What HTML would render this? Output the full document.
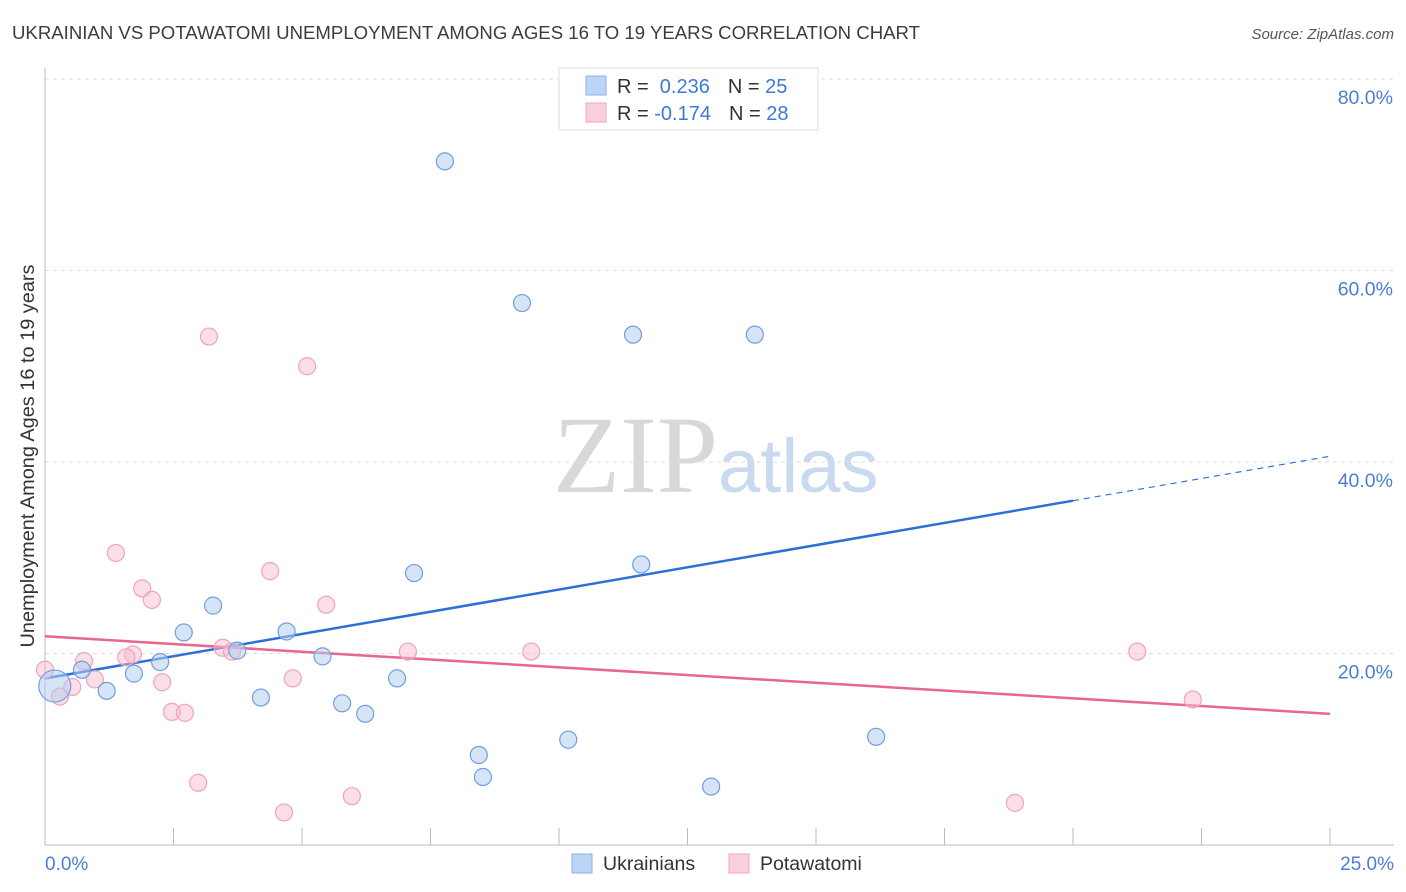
<!DOCTYPE html>
<html><head><meta charset="utf-8"><style>
body{margin:0;background:#fff;font-family:"Liberation Sans",sans-serif;}
svg{display:block}
</style></head><body>
<svg id="chart" width="1406" height="892" xmlns="http://www.w3.org/2000/svg">
<text x="12" y="39" font-size="18.6" fill="#3c3c3c" textLength="908" lengthAdjust="spacingAndGlyphs">UKRAINIAN VS POTAWATOMI UNEMPLOYMENT AMONG AGES 16 TO 19 YEARS CORRELATION CHART</text>
<text x="1394" y="39" font-size="15" fill="#555" text-anchor="end" font-style="italic">Source: ZipAtlas.com</text>
<text x="553" y="492" font-family="Liberation Serif,serif" font-size="110" fill="#d8d8d8">ZIP</text>
<text x="718" y="492" font-size="76" fill="#c9d9f0">atlas</text>
<g id="grid"></g><g id="axes"></g><g id="trends"></g><g id="points"></g>
<text transform="translate(34,456) rotate(-90)" font-size="19" fill="#333" text-anchor="middle" textLength="383" lengthAdjust="spacingAndGlyphs">Unemployment Among Ages 16 to 19 years</text>
<text x="45" y="870" font-size="19" fill="#4a7fd0">0.0%</text>
<text x="1394" y="870" font-size="19" fill="#4a7fd0" text-anchor="end">25.0%</text>
<g>
<rect x="559" y="68" width="259" height="62" fill="#fff" stroke="#ddd"/>
<rect x="586" y="76" width="20" height="19" fill="#bcd4f5" stroke="#8ab0e6"/>
<rect x="586" y="103" width="20" height="19" fill="#fbd0dd" stroke="#f0a4bb"/>
<text x="617" y="93" font-size="20" fill="#333">R = <tspan fill="#3d7ad6">&#160;0.236</tspan><tspan dx="18">N = </tspan><tspan fill="#3d7ad6">25</tspan></text>
<text x="617" y="120" font-size="20" fill="#333">R = <tspan fill="#3d7ad6">-0.174</tspan><tspan dx="18">N = </tspan><tspan fill="#3d7ad6">28</tspan></text>
</g>
<g>
<rect x="572" y="854" width="20" height="19" fill="#bcd4f5" stroke="#8ab0e6"/>
<text x="603" y="870" font-size="19.5" fill="#333">Ukrainians</text>
<rect x="729" y="854" width="20" height="19" fill="#fbd0dd" stroke="#f0a4bb"/>
<text x="760" y="870" font-size="19.5" fill="#333">Potawatomi</text>
</g>
</svg>
<script>
const blueX=[0.19,0.72,1.2,1.73,2.24,2.7,3.27,3.74,4.2,4.7,5.4,5.78,6.23,6.85,7.18,7.78,8.44,8.52,9.28,10.18,11.44,11.6,12.96,13.81,16.17];
const blueY=[16.6,18.3,16.1,17.9,19.1,22.2,25.0,20.3,15.4,22.3,19.7,14.8,13.7,17.4,28.4,71.4,9.4,7.1,56.6,11.0,53.3,29.3,6.1,53.3,11.3];
const pinkX=[0,0.29,0.53,0.76,0.97,1.38,1.71,1.58,1.89,2.08,2.28,2.47,2.72,2.98,3.19,3.46,3.64,4.38,4.65,4.82,5.1,5.47,5.97,7.06,9.46,18.87,21.25,22.33];
const pinkY=[18.3,15.5,16.5,19.2,17.3,30.5,19.9,19.6,26.8,25.6,17.0,13.9,13.8,6.5,53.1,20.6,20.2,28.6,3.4,17.4,50.0,25.1,5.1,20.2,20.2,4.4,20.2,15.2];
const blueTrend=[17.4,40.6]; // y at x=0 and x=25
const pinkTrend=[21.8,13.7];
const yTicks=[20,40,60,80];
const yTickLabels=["20.0%","40.0%","60.0%","80.0%"];
const xTicks=[0,2.5,5,7.5,10,12.5,15,17.5,20,22.5,25];
const NS="http://www.w3.org/2000/svg";
const X=v=>45+v*51.4, Y=v=>845-v*9.575;
function mk(p,t,a){const e=document.createElementNS(NS,t);for(const k in a)e.setAttribute(k,a[k]);document.getElementById(p).appendChild(e);return e;}
yTicks.forEach((t,i)=>{
 let l=mk('grid','line',{x1:45,x2:1394,y1:Y(t),y2:Y(t),stroke:'#ddd','stroke-dasharray':'4,4'});
 
 
 let tx=mk('grid','text',{x:1393,y:Y(t)+25,'font-size':19.5,fill:'#4a7fd0','text-anchor':'end'});
 tx.textContent=yTickLabels[i];
 
 
});
mk('axes','line',{x1:45,x2:45,y1:68,y2:845,stroke:'#bbb'});
let xa=mk('axes','line',{x1:45,x2:1394,y1:845,y2:845,stroke:'#bbb'});


xTicks.forEach(t=>{let k=mk('axes','line',{x1:X(t),x2:X(t),y1:828,y2:845,stroke:'#bbb'});
 
 });
const bAt=x=>blueTrend[0]+(blueTrend[1]-blueTrend[0])*x/25;
let bt=mk('trends','line',{x1:X(0),y1:Y(bAt(0)),x2:X(20),y2:Y(bAt(20)),stroke:'#2c6fd6','stroke-width':2.5});


let bd=mk('trends','line',{x1:X(20),y1:Y(bAt(20)),x2:X(25),y2:Y(bAt(25)),stroke:'#2c6fd6','stroke-width':1.2,'stroke-dasharray':'6,5'});


let pt=mk('trends','line',{x1:X(0),y1:Y(pinkTrend[0]),x2:X(25),y2:Y(pinkTrend[1]),stroke:'#e8668f','stroke-width':2.5});


pinkX.forEach((x,i)=>{let c=mk('points','circle',{cx:X(x),cy:Y(pinkY[i]),r:8.5,fill:'rgba(248,190,208,0.5)',stroke:'#f0a4bb','stroke-width':1.2});
 
 });
blueX.forEach((x,i)=>{let c=mk('points','circle',{cx:X(x),cy:Y(blueY[i]),r:i==0?16:8.5,fill:'rgba(180,205,240,0.55)',stroke:'#6f9fe0','stroke-width':1.2});
 
 });
</script>
</body></html>
